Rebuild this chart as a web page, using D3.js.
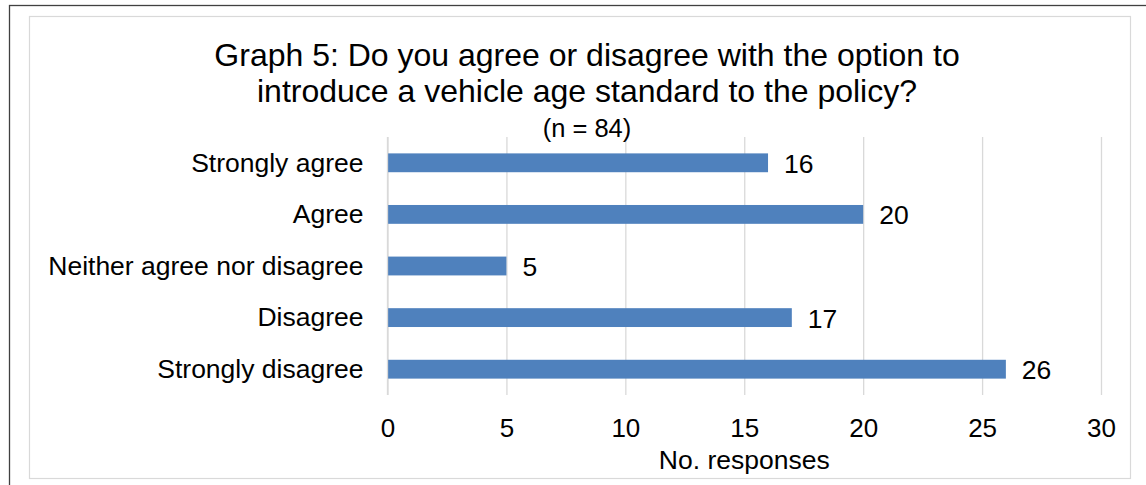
<!DOCTYPE html>
<html>
<head>
<meta charset="utf-8">
<script src="https://cdn.jsdelivr.net/npm/d3@7"></script>
<style>
  html, body { margin: 0; padding: 0; background: #fff; }
  svg { display: block; }
  text { font-family: "Liberation Sans", Arial, sans-serif; fill: #000; }
</style>
</head>
<body>
<div id="chart"></div>
<script>
const categories = ["Strongly agree", "Agree", "Neither agree nor disagree", "Disagree", "Strongly disagree"];
const values = [16, 20, 5, 17, 26];
const tickValues = [0, 5, 10, 15, 20, 25, 30];
const titleLines = ["Graph 5: Do you agree or disagree with the option to", "introduce a vehicle age standard to the policy?"];
const subtitle = "(n = 84)";
const xTitle = "No. responses";

(function () {
const W = 1146, H = 485;
const svg = d3.select("#chart").append("svg").attr("width", W).attr("height", H);

// outer frame (only left and top edges visible)
svg.append("rect").attr("x", 9.5).attr("y", 5.5).attr("width", W + 20).attr("height", H + 20)
  .attr("fill", "none").attr("stroke", "#404040").attr("stroke-width", 1.3);
// chart area border
svg.append("rect").attr("x", 29.5).attr("y", 16.5).attr("width", 1101).attr("height", 462)
  .attr("fill", "#fff").attr("stroke", "#d9d9d9").attr("stroke-width", 1.2);

const pL = 387.5, pR = 1101, pT = 137, pB = 395;
const x = d3.scaleLinear().domain([0, 30]).range([pL, pR]);
const y = d3.scaleBand().domain(categories).range([pT, pB]).paddingInner(0.635).paddingOuter(0.3175);

// gridlines
const xAxis = d3.axisBottom(x).tickValues(tickValues).tickSize(-(pB - pT)).tickFormat(d3.format("d"));
const gx = svg.append("g").attr("transform", `translate(0,${pB})`).call(xAxis);
gx.select(".domain").remove();
gx.selectAll(".tick line").attr("stroke", "#d9d9d9").attr("stroke-width", 1.3);
gx.selectAll(".tick text").attr("font-size", 26).attr("y", 0).attr("dy", 41.5)
  .attr("font-family", "Liberation Sans, Arial, sans-serif").attr("fill", "#000");

// bars
svg.append("g").selectAll("rect").data(values).join("rect")
  .attr("x", x(0))
  .attr("y", (d, i) => y(categories[i]))
  .attr("width", d => x(d) - x(0))
  .attr("height", y.bandwidth())
  .attr("fill", "#4f81bd");

// y axis line
svg.append("line").attr("x1", x(0)).attr("x2", x(0)).attr("y1", pT).attr("y2", pB)
  .attr("stroke", "#d9d9d9").attr("stroke-width", 1.3);

// category labels
const yAxis = d3.axisLeft(y).tickSize(0).tickPadding(24);
const gy = svg.append("g").attr("transform", `translate(${x(0)},0)`).call(yAxis);
gy.select(".domain").remove();
gy.selectAll(".tick text").attr("font-size", 26.5).attr("dy", "0.33em")
  .attr("font-family", "Liberation Sans, Arial, sans-serif").attr("fill", "#000");

// value labels
svg.append("g").selectAll("text").data(values).join("text")
  .attr("x", d => x(d) + 16)
  .attr("y", (d, i) => y(categories[i]) + y.bandwidth() / 2)
  .attr("dy", "0.38em")
  .attr("font-size", 26.5)
  .text(d => d);

// titles
const cx = 587;
svg.append("text").attr("x", cx).attr("y", 66).attr("text-anchor", "middle").attr("font-size", 32).text(titleLines[0]);
svg.append("text").attr("x", cx).attr("y", 102).attr("text-anchor", "middle").attr("font-size", 32).text(titleLines[1]);
svg.append("text").attr("x", cx).attr("y", 136.5).attr("text-anchor", "middle").attr("font-size", 25.5).text(subtitle);
svg.append("text").attr("x", (pL + pR) / 2).attr("y", 468.5).attr("text-anchor", "middle").attr("font-size", 26.5).text(xTitle);
})();
</script>
</body>
</html>
